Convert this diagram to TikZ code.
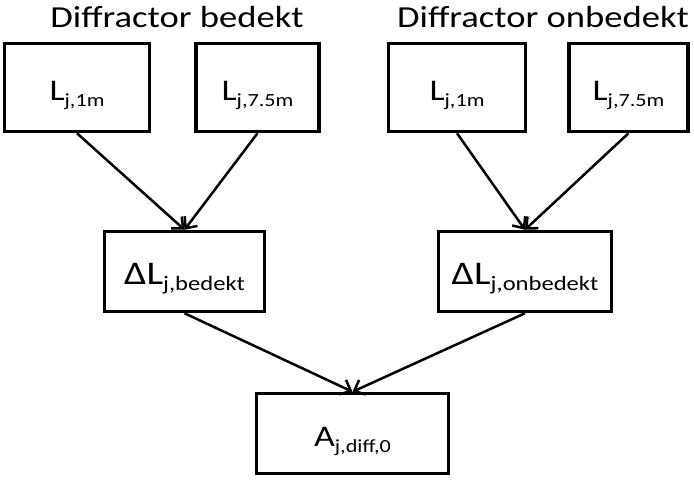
\documentclass[tikz,border=0pt]{standalone}
\usepackage{fontspec}
\setmainfont{Carlito}[FakeStretch=1.2]
\usetikzlibrary{arrows.meta,positioning}

\newcommand{\lsub}[3][18.5]{#2\raisebox{-6pt}{\fontsize{#1}{#1}\selectfont #3}}

\begin{document}
\begin{tikzpicture}[
    x=1pt, y=1pt,
    box/.style={rectangle, draw, line width=3.5pt, minimum height=88pt, inner sep=0pt,
        text height=26pt, text depth=0pt, font=\fontsize{30}{30}\selectfont},
    head/.style={inner sep=0pt, font=\fontsize{30.5}{30.5}\selectfont},
    arrow/.style={-{Straight Barb[length=9pt,width=16pt]}, line width=2.5pt}
]
    \useasboundingbox (0,0) rectangle (694,-485);

    \node[head, anchor=base] (hbedekt) at (177,-27) {Diffractor bedekt};
    \node[head, anchor=base] (honbedekt) at (543,-27) {Diffractor onbedekt};

    \node[box, minimum width=145pt] (b1) at (77,-87.5) {\lsub{L}{j,1m}};
    \node[box, minimum width=123pt, right=43pt of b1] (b2) {\lsub{L}{j,7.5m}};
    \node[box, minimum width=137pt, right=66pt of b2] (o1) {\lsub{L}{j,1m}};
    \node[box, minimum width=119pt, right=40pt of o1] (o2) {\lsub{L}{j,7.5m}};

    \node[box, minimum width=160pt, minimum height=80pt, font=\fontsize{33}{33}\selectfont] (dbedekt) at (184.5,-271.5) {\lsub[20.5]{ΔL}{j,bedekt}};
    \node[box, minimum width=173pt, minimum height=80pt, font=\fontsize{33}{33}\selectfont] (donbedekt) at (525,-271.5) {\lsub[20.5]{ΔL}{j,onbedekt}};

    \node[box, minimum width=192pt, minimum height=80pt] (adiff) at (352.5,-433.5) {\lsub{A}{j,diff,0}};

    \draw[arrow] (b1.south) -- (dbedekt.north);
    \draw[arrow] (b2.south) -- (dbedekt.north);
    \draw[arrow] (o1.south) -- (donbedekt.north);
    \draw[arrow] (o2.south) -- (donbedekt.north);
    \draw[arrow] (dbedekt.south) -- (adiff.north);
    \draw[arrow] (donbedekt.south) -- (adiff.north);
\end{tikzpicture}
\end{document}
